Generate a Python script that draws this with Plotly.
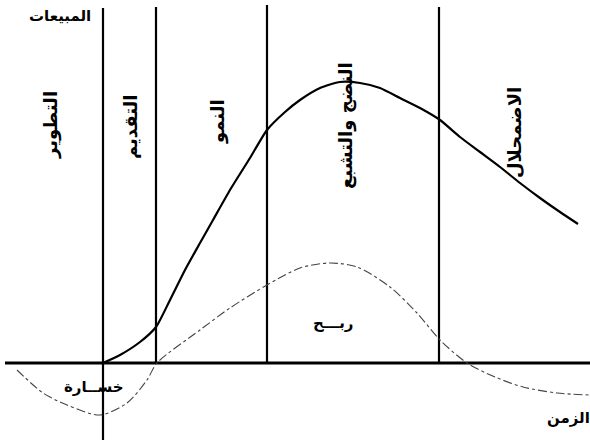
import plotly.graph_objects as go

# Stage boundaries along the time axis
stage_bounds = [103, 156, 267, 439]
stage_tops = [355, 356, 358, 356]
axis_bottom = -77

stage_names = ["التطوير", "التقديم", "النمو", "النضج والتشبع", "الاضمحلال"]
stage_label_x = [51, 130, 218, 346, 514]
stage_label_y = [238, 236, 241, 237, 230]

# Sales curve
sales_x = [103, 120, 140, 156, 170, 185, 200, 213, 230, 250, 267, 285, 300, 320, 340,
           360, 380, 400, 420, 440, 460, 480, 500, 520, 540, 560, 578]
sales_y = [0, 8, 21, 36, 63, 93, 120, 143, 173, 205, 233, 251, 263, 275, 281,
           280, 275, 265, 255, 243, 226, 211, 196, 180, 165, 151, 139]

# Profit curve
profit_x = [17, 43, 67, 100, 127, 147, 157, 200, 230, 267, 300, 330, 357, 390, 417,
            440, 467, 495, 523, 557, 590]
profit_y = [-7, -30, -42, -52, -40, -17, 0, 33, 55, 78, 95, 100, 96, 76, 50,
            23, 0, -14, -24, -30, -32]

fig = go.Figure()

# Time axis (horizontal)
fig.add_trace(go.Scatter(x=[5, 590], y=[0, 0], mode="lines",
                         line=dict(color="black", width=3), hoverinfo="skip"))

# Stage boundary lines
for i, (b, t) in enumerate(zip(stage_bounds, stage_tops)):
    y0 = axis_bottom if i == 0 else 0
    fig.add_trace(go.Scatter(x=[b, b], y=[y0, t], mode="lines",
                             line=dict(color="black", width=2.2), hoverinfo="skip"))

# Profit curve
fig.add_trace(go.Scatter(x=profit_x, y=profit_y, mode="lines",
                         line=dict(color="#444444", width=1.1, dash="dashdot",
                                   shape="spline", smoothing=0.8),
                         hoverinfo="skip"))

# Sales curve
fig.add_trace(go.Scatter(x=sales_x, y=sales_y, mode="lines",
                         line=dict(color="black", width=2.2, shape="spline", smoothing=0.6),
                         hoverinfo="skip"))

font_ar = "DejaVu Sans"
annotations = []
for name, lx, ly in zip(stage_names, stage_label_x, stage_label_y):
    annotations.append(dict(x=lx, y=ly, xref="x", yref="y", text="<b>" + name + "</b>",
                            showarrow=False, textangle=-90,
                            font=dict(family=font_ar, size=18, color="black")))

annotations += [
    dict(x=60, y=347, xref="x", yref="y", text="<b>المبيعات</b>", showarrow=False,
         font=dict(family=font_ar, size=15, color="black")),
    dict(x=333, y=40, xref="x", yref="y", text="<b>ربـــح</b>", showarrow=False,
         font=dict(family=font_ar, size=15, color="black")),
    dict(x=93, y=-24, xref="x", yref="y", text="<b>خســارة</b>", showarrow=False,
         font=dict(family=font_ar, size=15, color="black")),
    dict(x=568, y=-55, xref="x", yref="y", text="<b>الزمن</b>", showarrow=False,
         font=dict(family=font_ar, size=15, color="black")),
]

fig.update_layout(
    width=590, height=440,
    margin=dict(l=0, r=0, t=0, b=0),
    paper_bgcolor="white", plot_bgcolor="white",
    showlegend=False,
    xaxis=dict(range=[0, 590], visible=False, fixedrange=True),
    yaxis=dict(range=[axis_bottom, 363], visible=False, fixedrange=True),
    annotations=annotations,
)

fig.write_html("out.html", config={"displayModeBar": False},
               post_script="document.body.style.margin='0px';")
